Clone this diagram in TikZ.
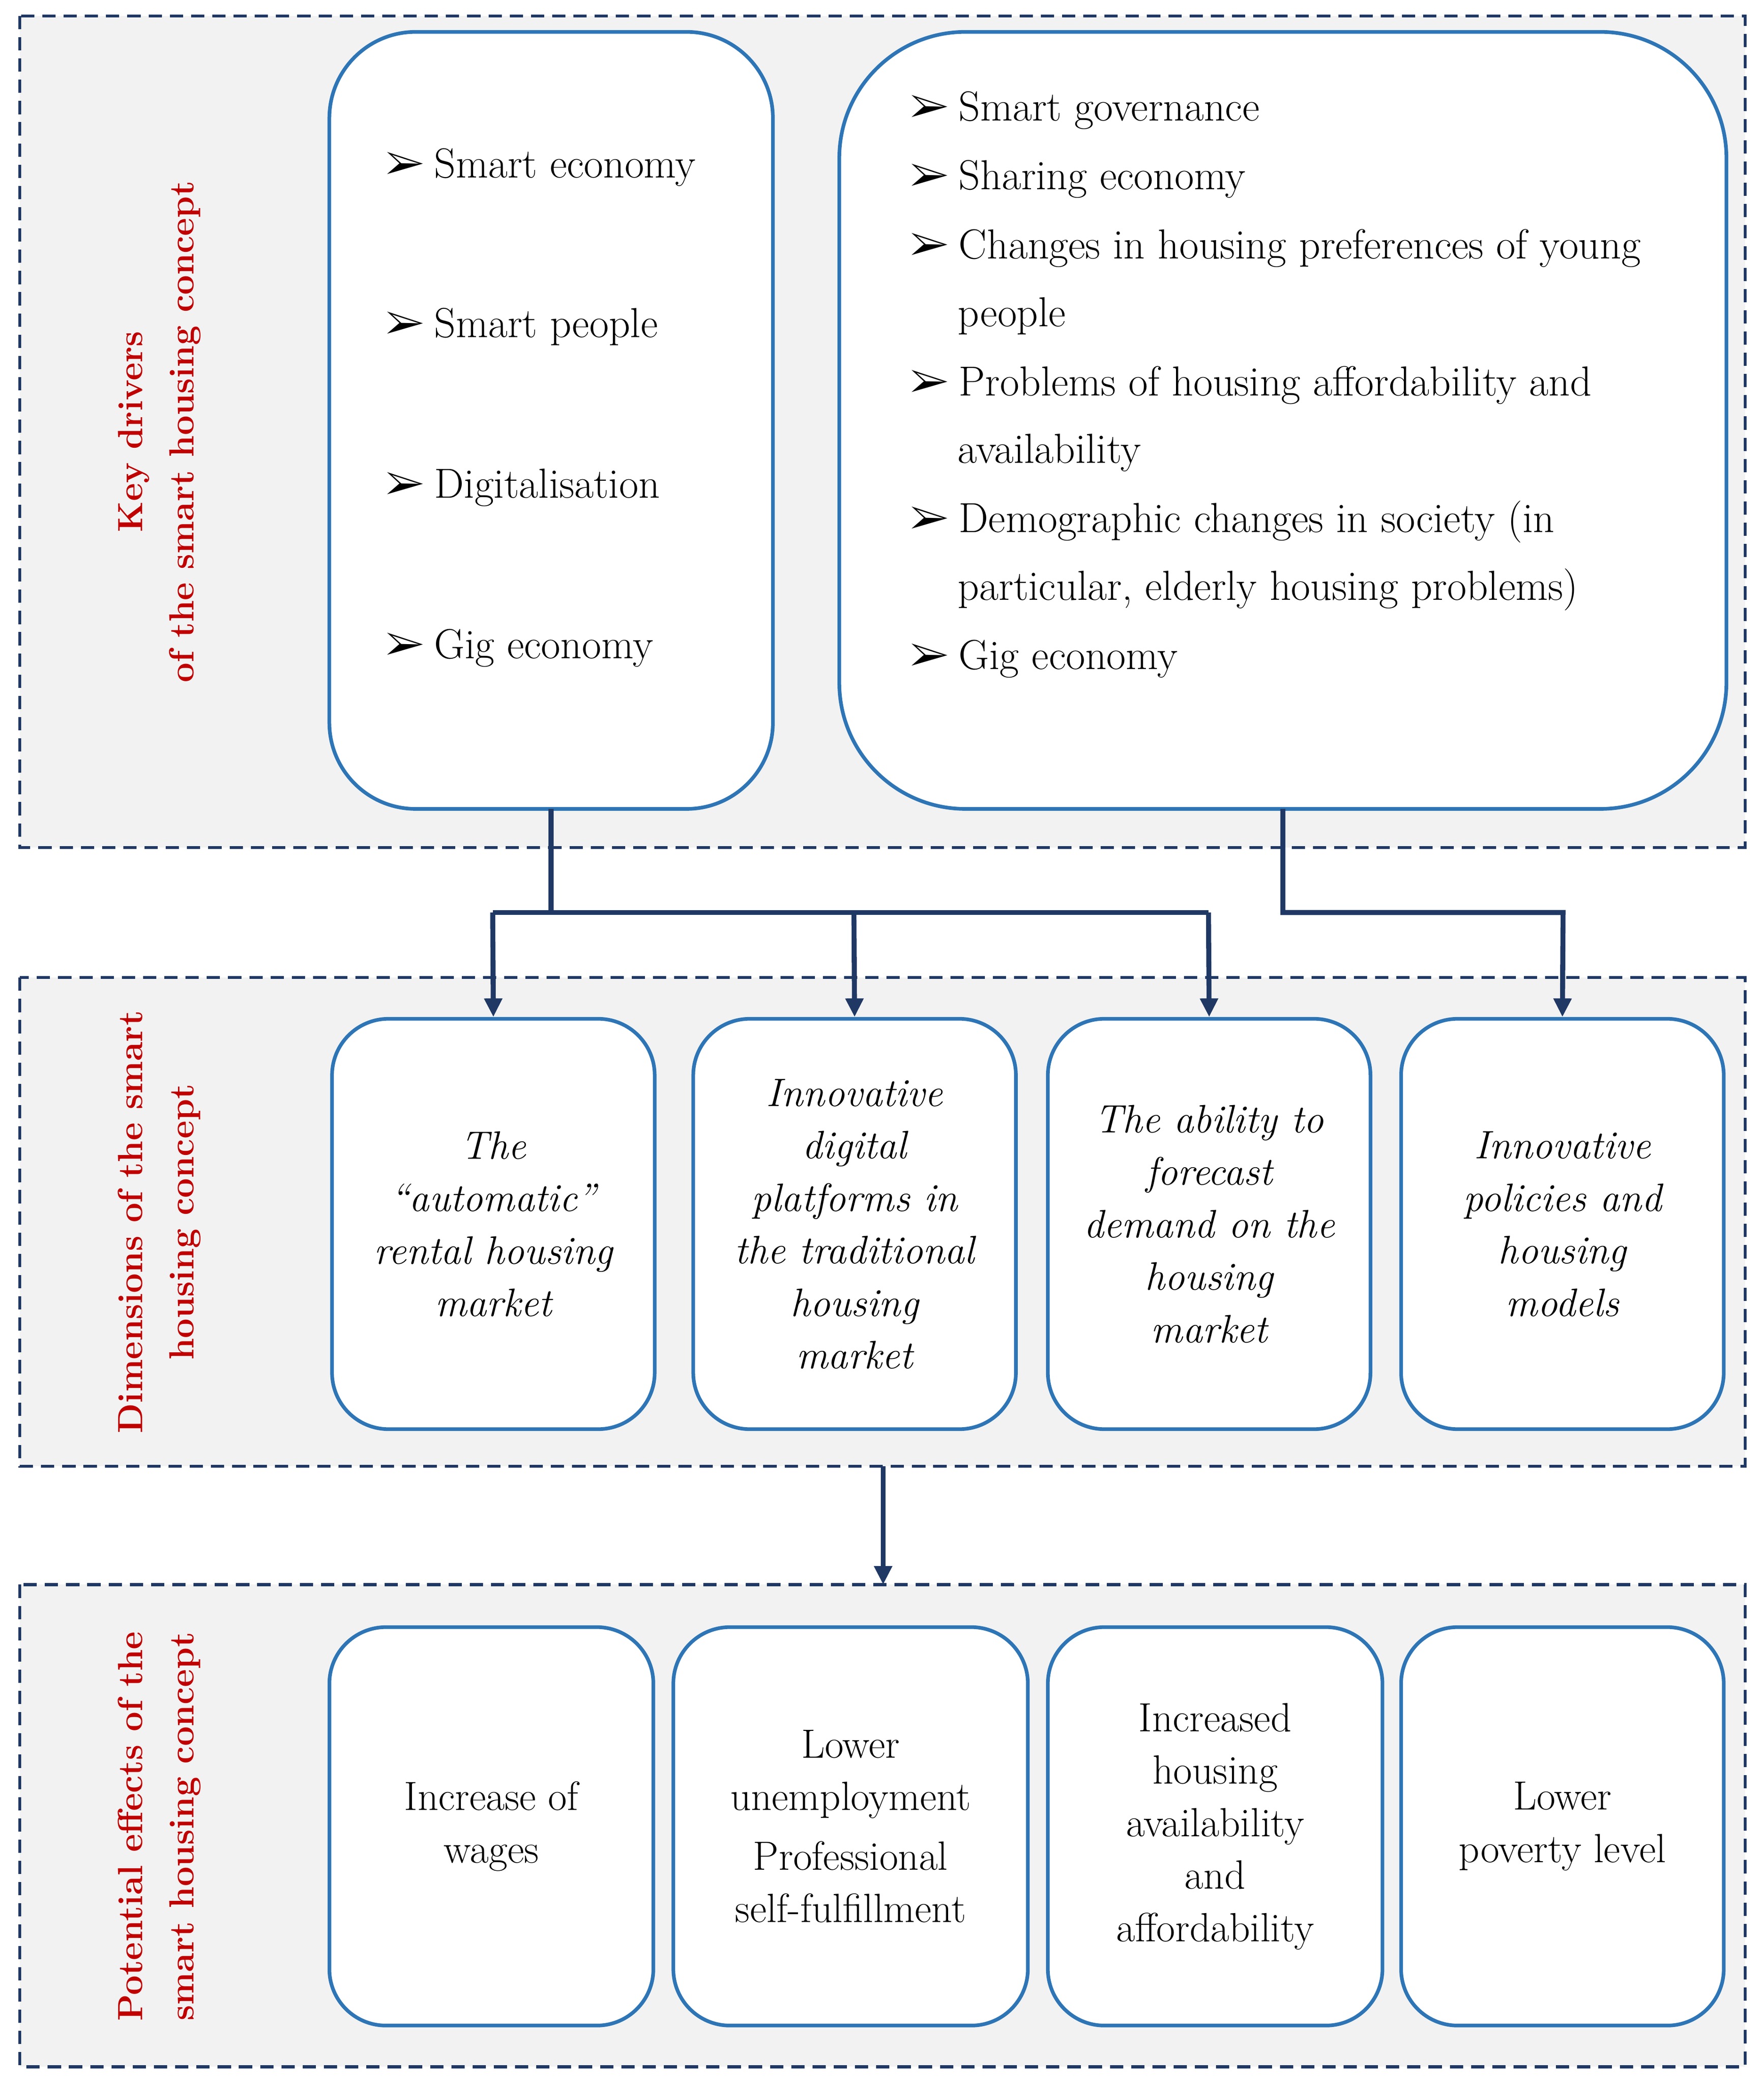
\documentclass[tikz,border=0pt]{standalone}
\usepackage{pifont}
\usetikzlibrary{arrows.meta}
\definecolor{panelfill}{HTML}{F2F2F2}
\definecolor{navy}{HTML}{1F3864}
\definecolor{boxblue}{HTML}{2E75B6}
\definecolor{lblred}{HTML}{C00000}
\begin{document}
\begin{tikzpicture}[x=0.02cm,y=-0.02cm,
  panel/.style={draw=navy,dashed,line width=0.045cm,fill=panelfill,dash pattern=on 0.2cm off 0.12cm},
  box/.style={draw=boxblue,line width=0.055cm,fill=white},
  lbl/.style={text=lblred,font=\fontsize{15}{22}\selectfont\bfseries,rotate=90,align=center},
  bul/.style={anchor=west,inner sep=0,font=\fontsize{18}{20}\selectfont},
  dim/.style={align=center,font=\fontsize{17}{22.5}\selectfont\itshape},
  eff/.style={align=center,font=\fontsize{17.5}{22.5}\selectfont},
  conn/.style={draw=navy,line width=0.075cm},
  arr/.style={conn,-{Triangle[length=0.28cm,width=0.26cm]}}]
\useasboundingbox (0,0) rectangle (1328,1569);
% panels
\draw[panel] (15,12) rectangle (1314,638);
\draw[panel] (15,736) rectangle (1314,1104);
\draw[panel] (15,1193) rectangle (1314,1556);
\node[lbl] (l1) at (120,325) {Key drivers\\of the smart housing concept};
\node[lbl] (l2) at (120,920) {Dimensions of the smart\\housing concept};
\node[lbl] (l3) at (120,1375) {Potential effects of the\\smart housing concept};
% top boxes
\draw[box,rounded corners=1.3cm] (248,24) rectangle (582,609);
\draw[box,rounded corners=1.9cm] (632,24) rectangle (1300,609);
\coordinate (lb) at (415,609);
\coordinate (rb) at (966,609);
\foreach \t/\y [count=\i] in {Smart economy/126,Smart people/246,Digitalisation/367,Gig economy/488}{
  \node[bul] (la\i) at (290,\y) {\ding{226}\hspace{0.15cm}\t};}
\foreach \t/\y [count=\i] in {Smart governance/83,Sharing economy/135,Changes in housing preferences of young/187,Problems of housing affordability and/290,Demographic changes in society (in/393,Gig economy/496}{
  \node[bul] (ra\i) at (685,\y) {\ding{226}\hspace{0.15cm}\t};}
\foreach \t/\y [count=\i] in {people/238,availability/341,{particular, elderly housing problems)}/444}{
  \node[bul] (rc\i) at (721,\y) {\t};}
% dimension boxes
\node[box,rounded corners=0.85cm,minimum width=4.86cm,minimum height=6.18cm,inner sep=0] (d1) at (371.5,921.5) {};
\node[box,rounded corners=0.85cm,minimum width=4.86cm,minimum height=6.18cm,inner sep=0] (d2) at (643.5,921.5) {};
\node[box,rounded corners=0.85cm,minimum width=4.86cm,minimum height=6.18cm,inner sep=0] (d3) at (910.5,921.5) {};
\node[box,rounded corners=0.85cm,minimum width=4.86cm,minimum height=6.18cm,inner sep=0] (d4) at (1176.5,921.5) {};
\node[dim] (t1) at (d1) {The\\``automatic''\\rental housing\\market};
\node[dim] (t2) at (d2) {Innovative\\digital\\platforms in\\the traditional\\housing\\market};
\node[dim] (t3) at (d3) {The ability to\\forecast\\demand on the\\housing\\market};
\node[dim] (t4) at (d4) {Innovative\\policies and\\housing\\models};
% effect boxes
\node[box,rounded corners=0.85cm,minimum width=4.88cm,minimum height=6cm,inner sep=0] (e1) at (370,1375) {};
\node[box,rounded corners=0.85cm,minimum width=5.34cm,minimum height=6cm,inner sep=0] (e2) at (640.5,1375) {};
\node[box,rounded corners=0.85cm,minimum width=5.04cm,minimum height=6cm,inner sep=0] (e3) at (915,1375) {};
\node[box,rounded corners=0.85cm,minimum width=4.86cm,minimum height=6cm,inner sep=0] (e4) at (1176.5,1375) {};
\node[eff] (f1) at (e1) {Increase of\\wages};
\node[eff] (f2) at (e2) {Lower\\unemployment\\[3pt]Professional\\self-fulfillment};
\node[eff] (f3) at (e3) {Increased\\housing\\availability\\and\\affordability};
\node[eff] (f4) at (e4) {Lower\\poverty level};
% connectors
\coordinate (j1) at (415,687);
\coordinate (j2) at (966,687);
\draw[conn] (lb) -- (j1);
\draw[conn] (371,687) -- (910,687);
\draw[arr] (371,687) -- (d1.north);
\draw[arr] (643,687) -- (d2.north);
\draw[arr] (910,687) -- (d3.north);
\draw[arr] (rb) |- (1177,687) -- (d4.north);
\coordinate (p2) at (665,1104);
\coordinate (p3) at (665,1193);
\draw[arr] (p2) -- (p3);
\end{tikzpicture}
\end{document}
